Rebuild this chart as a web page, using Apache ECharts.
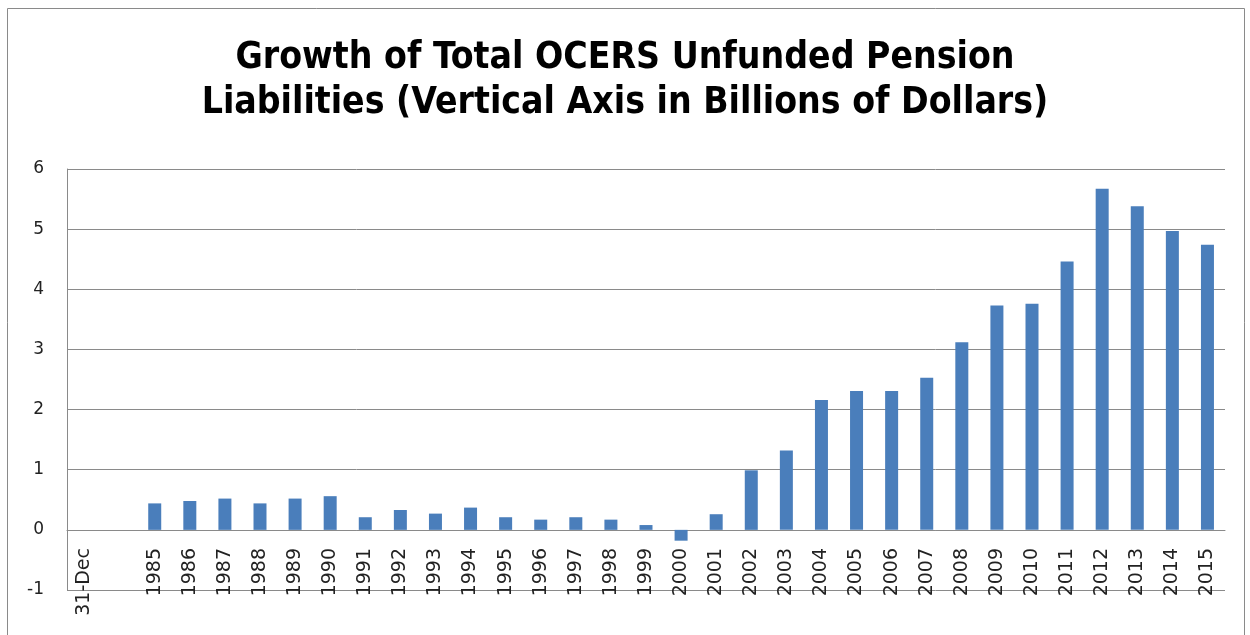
<!DOCTYPE html>
<html>
<head>
<meta charset="utf-8">
<script src="https://cdn.jsdelivr.net/npm/echarts@6/dist/echarts.min.js"></script>
<style>html,body{margin:0;padding:0;background:#fff;}#c{width:1250px;height:635px;}</style>
</head>
<body>
<div id="c"></div>
<script>
var categories = ["31-Dec", "", "1985", "1986", "1987", "1988", "1989", "1990", "1991", "1992", "1993", "1994", "1995", "1996", "1997", "1998", "1999", "2000", "2001", "2002", "2003", "2004", "2005", "2006", "2007", "2008", "2009", "2010", "2011", "2012", "2013", "2014", "2015"];
var unfunded = [null, null, 0.44, 0.48, 0.52, 0.44, 0.52, 0.56, 0.21, 0.33, 0.27, 0.37, 0.21, 0.17, 0.21, 0.17, 0.08, -0.18, 0.26, 0.99, 1.32, 2.16, 2.31, 2.31, 2.53, 3.12, 3.73, 3.76, 4.46, 5.67, 5.38, 4.97, 4.74];
var yTicks = [-1, 0, 1, 2, 3, 4, 5, 6];
var titleText = "Growth of Total OCERS Unfunded Pension\nLiabilities (Vertical Axis in Billions of Dollars)";

var chart = echarts.init(document.getElementById('c'), null, {renderer: 'canvas'});
chart.setOption({
  animation: false,
  backgroundColor: '#fff',
  title: {
    text: titleText,
    left: 'center',
    top: 31,
    textStyle: {
      fontFamily: 'Liberation Sans Narrow, DejaVu Sans Condensed, sans-serif',
      fontWeight: 'bold',
      fontSize: 37,
      lineHeight: 45,
      color: '#000'
    }
  },
  graphic: [{
    type: 'rect',
    shape: {x: 7.5, y: 8.5, width: 1237, height: 640},
    style: {fill: 'none', stroke: '#8a8a8a', lineWidth: 1},
    silent: true
  }],
  grid: {left: 67, right: 25, top: 169, bottom: 45, containLabel: false, outerBoundsMode: 'none'},
  xAxis: {
    type: 'category',
    data: categories,
    offset: -60,
    axisLine: {onZero: false, lineStyle: {color: '#8a8a8a', width: 1}},
    axisTick: {show: false},
    axisLabel: {
      interval: 0,
      rotate: 90,
      margin: 18,
      fontFamily: 'DejaVu Sans, sans-serif',
      fontSize: 19,
      color: '#222'
    }
  },
  yAxis: {
    type: 'value',
    min: yTicks[0],
    max: yTicks[yTicks.length - 1],
    interval: 1,
    axisLine: {show: true, lineStyle: {color: '#8a8a8a', width: 1}},
    axisTick: {show: false},
    axisLabel: {
      margin: 23,
      fontFamily: 'DejaVu Sans, sans-serif',
      fontSize: 17,
      color: '#222'
    },
    splitLine: {lineStyle: {color: '#8a8a8a', width: 1}}
  },
  series: [{
    type: 'bar',
    data: unfunded,
    barWidth: 13,
    itemStyle: {color: '#4a7ebb'}
  }]
});
</script>
</body>
</html>
